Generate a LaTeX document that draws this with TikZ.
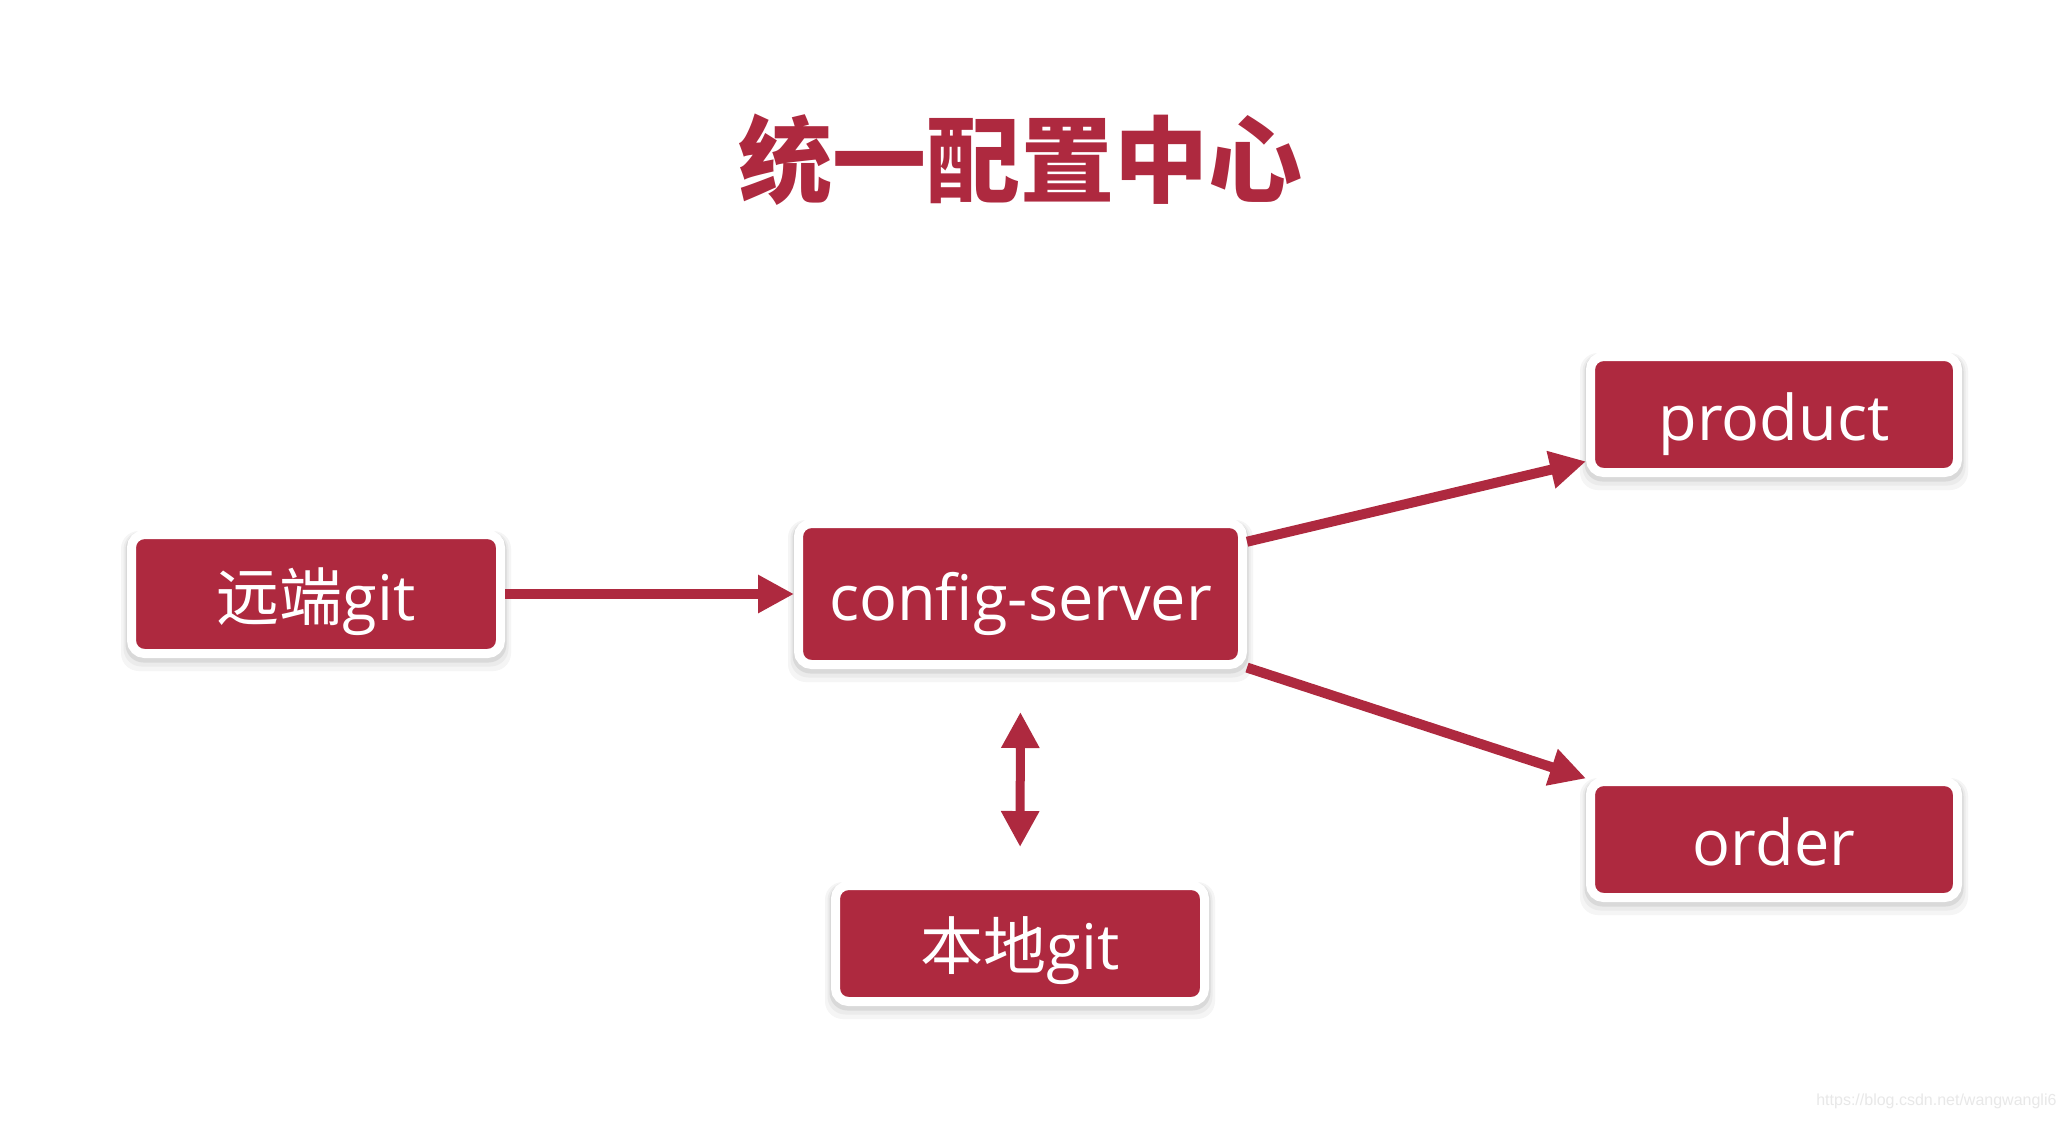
\documentclass[tikz,border=0pt]{standalone}
\usepackage{fontspec}
\setmainfont{Open Sans}
\newfontfamily\cjk{Noto Sans CJK SC}
\newfontfamily\urlfont{Liberation Sans}
\usetikzlibrary{arrows.meta}
\definecolor{cfgred}{RGB}{174,41,63}
\pgfdeclarelayer{background}
\pgfsetlayers{background,main}

\begin{document}
\begin{tikzpicture}[x=1pt,y=-1pt,
  cfgbox/.style={rectangle, fill=cfgred, draw=white, line width=9pt,
    rounded corners=13pt, inner sep=0pt, minimum width=369pt, minimum height=117pt,
    text=white, font=\fontsize{63}{70}\selectfont, text height=60pt, text depth=8pt},
  flow/.style={draw=cfgred, line width=10pt, -{Triangle[length=36pt,width=36pt]}},
  both/.style={draw=cfgred, line width=9pt,
    {Triangle[length=36pt,width=36pt]}-{Triangle[length=36pt,width=36pt]}},
  ]
\useasboundingbox (0,0) rectangle (2068,1120);

% title
\node[font=\cjk\bfseries\fontsize{94}{100}\selectfont, text=cfgred] (title) at (1020,160) {统一配置中心};

% boxes
\node[cfgbox, minimum height=119pt] (remote) at (316,594) {{\cjk 远端}git};
\node[cfgbox, minimum width=444pt, minimum height=141pt] (server) at (1020.5,594) {config-server};
\node[cfgbox, minimum width=367pt, minimum height=116pt] (product) at (1774,414.5) {product};
\node[cfgbox, minimum width=367pt, minimum height=116pt] (order) at (1774,839.5) {order};
\node[cfgbox, minimum height=116pt] (local) at (1020,943.5) {{\cjk 本地}git};

% connectors
\draw[flow] (remote.east) -- (server.west);
\draw[flow] (server.13.5) -- (product.194);
\draw[flow] (server.-18) -- (order.162);
\draw[both, shorten <=43pt, shorten >=34pt] (server.south) -- (local.north);

% url mark
\node[anchor=east, font=\urlfont\fontsize{16}{18}\selectfont, text=black!9] (mark) at (2060,1101) {https://blog.csdn.net/wangwangli6};

% page and soft box shadows
\begin{pgfonlayer}{background}
  \fill[white] (0,0) rectangle (2068,1120);
  \foreach \n in {remote,server,product,order,local} {
    \foreach \gr/\ex/\dy in {4/6/7, 8/3.5/5, 15/1.5/3} {
      \fill[black!\gr, rounded corners=18pt]
        ([xshift=-\ex pt, yshift=\ex pt-\dy pt]\n.north west) rectangle
        ([xshift=\ex pt, yshift=-\ex pt-\dy pt]\n.south east);
    }
  }
\end{pgfonlayer}
\end{tikzpicture}
\end{document}
